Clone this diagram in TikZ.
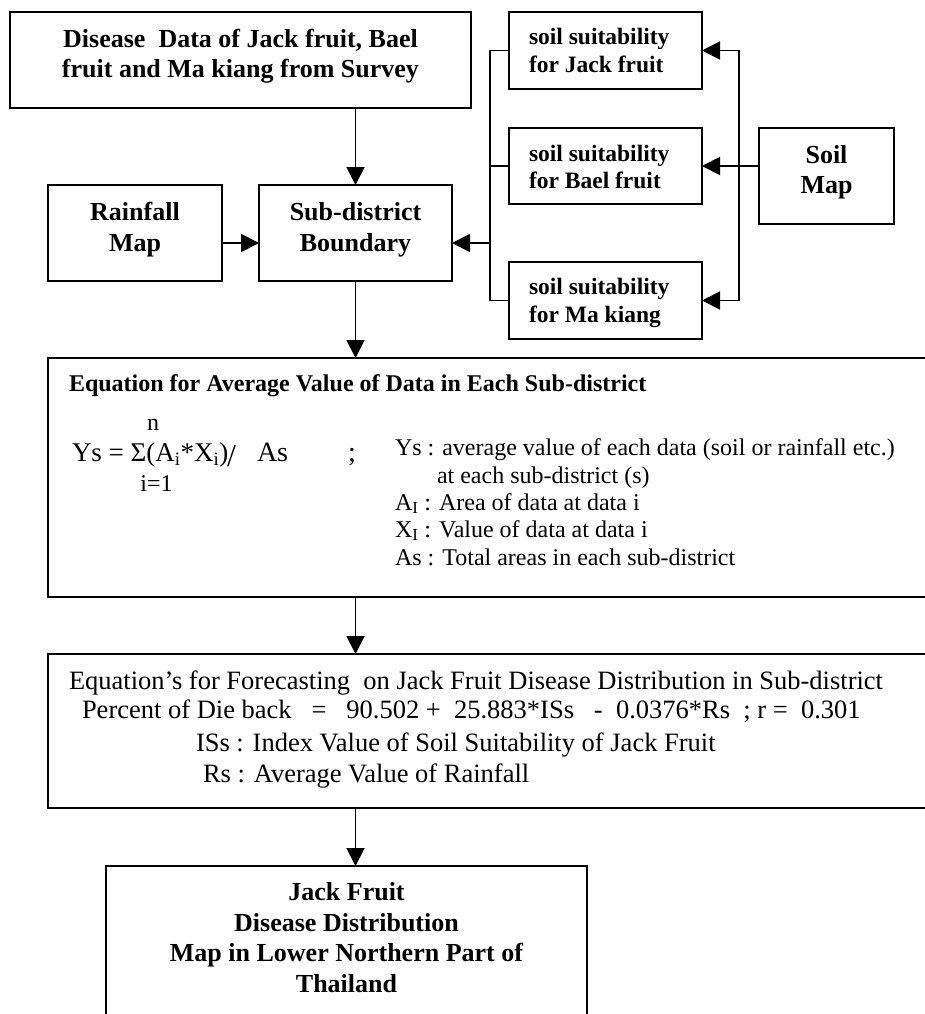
\documentclass[tikz,border=0pt]{standalone}
\usepackage{fontspec}
\setmainfont{Liberation Serif}
\usetikzlibrary{arrows.meta,calc}
\newcommand{\fsz}[2]{\fontsize{#1}{#2}\selectfont}
\begin{document}
\begin{tikzpicture}[x=1pt,y=-1pt,
  box/.style={draw, line width=1.9pt, inner sep=0pt, outer sep=0pt},
  conn/.style={line width=1.9pt},
  arr/.style={conn, -{Triangle[length=18pt,width=18pt]}},
  txt/.style={inner sep=0pt, outer sep=0pt, align=center},
  ltxt/.style={inner sep=0pt, outer sep=0pt, anchor=base west},
  ]
\useasboundingbox (0,0) rectangle (925,1014);
\clip (0,0) rectangle (925,1014);

% boxes
\node[box, minimum width=461, minimum height=96] (topb) at (240.5,60) {};
\node[box, minimum width=174, minimum height=96] (rain) at (135,233) {};
\node[box, minimum width=193, minimum height=96] (sub) at (355.5,233) {};
\node[box, minimum width=193, minimum height=77] (sj) at (605.5,50.5) {};
\node[box, minimum width=193, minimum height=76] (sb) at (605.5,166) {};
\node[box, minimum width=193, minimum height=77] (sm) at (605.5,300.5) {};
\node[box, minimum width=135, minimum height=96] (soil) at (826.5,176) {};
\node[box, minimum width=892, minimum height=239] (eq) at (494,477.5) {};
\node[box, minimum width=892, minimum height=154] (fc) at (494,731) {};
\node[box, minimum width=481, minimum height=164] (fin) at (346.5,948) {};

% box texts
\node[txt, font=\bfseries\fsz{26}{30}] (topt) at (240.5,57) {\strut Disease\ \ Data of Jack fruit, Bael\\\strut fruit and Ma kiang from Survey};
\node[txt, font=\bfseries\fsz{26}{31.5}] (raint) at (135,229.5) {\strut Rainfall\\\strut Map};
\node[txt, font=\bfseries\fsz{26}{31.5}] (subt) at (355.5,229.5) {\strut Sub-district\\\strut Boundary};
\node[txt, align=left, anchor=west, font=\bfseries\fsz{23.5}{27.7}] (sjt) at (529,53.3) {\strut soil suitability\\\strut for Jack fruit};
\node[txt, align=left, anchor=west, font=\bfseries\fsz{23.5}{27.7}] (sbt) at (529,169.5) {\strut soil suitability\\\strut for Bael fruit};
\node[txt, align=left, anchor=west, font=\bfseries\fsz{23.5}{27.7}] (smt) at (529,303) {\strut soil suitability\\\strut for Ma kiang};
\node[txt, font=\bfseries\fsz{26}{30}] (soilt) at (826.5,172.3) {\strut Soil\\\strut Map};
\node[txt, font=\bfseries\fsz{26}{30.5}] (fint) at (346.5,940.4) {\strut Jack Fruit\\\strut Disease Distribution\\\strut Map in Lower Northern Part of\\\strut Thailand};

% equation box content
\node[ltxt, font=\bfseries\fsz{24}{28}] (eqt) at (69,391.7) {Equation for Average Value of Data in Each Sub-district};
\node[ltxt, font=\fsz{27}{32}] (eqa) at (72,461.7) {Ys = Σ(A\textsubscript{i}*X\textsubscript{i})};
\node[ltxt, font=\fsz{32}{36}] (eqs) at (227,466) {/};
\node[ltxt, font=\fsz{28}{32}] (eqas) at (257,461.7) {As};
\node[ltxt, font=\fsz{28}{32}] (eqsc) at (348,461.7) {;};
\node[inner sep=0pt, anchor=base, font=\fsz{24}{28}] (eqn) at (153,430) {n};
\node[inner sep=0pt, anchor=base, font=\fsz{24}{28}] (eqi) at (156.5,491.7) {i=1};
\node[ltxt, font=\fsz{24}{28}] (ex1) at (395,455) {Ys : average value of each data (soil or rainfall etc.)};
\node[ltxt, font=\fsz{24}{28}] (ex2) at (437,483) {at each sub-district (s)};
\node[ltxt, font=\fsz{24}{28}] (ex3) at (395,510) {A\textsubscript{I} : Area of data at data i};
\node[ltxt, font=\fsz{24}{28}] (ex4) at (395,537) {X\textsubscript{I} : Value of data at data i};
\node[ltxt, font=\fsz{24}{28}] (ex5) at (395,565) {As : Total areas in each sub-district};

% forecasting box content
\node[ltxt, font=\fsz{26.5}{30}] (f1) at (69,689.3) {Equation’s for Forecasting\ \ on Jack Fruit Disease Distribution in Sub-district};
\node[ltxt, font=\fsz{26.5}{30}] (f2) at (82,718.3) {Percent of Die back\ \ \ =\ \ \ 90.502 +\ \ 25.883*ISs\ \ \ -\ \ 0.0376*Rs\ \ ; r =\ \ 0.301};
\node[ltxt, font=\fsz{26.5}{30}] (f3) at (196,751.7) {ISs : Index Value of Soil Suitability of Jack Fruit};
\node[ltxt, font=\fsz{26.5}{30}] (f4) at (203,782.7) {Rs : Average Value of Rainfall};

% connectors
\draw[arr] (topb.south -| sub.north) -- (sub.north);
\draw[arr] ([yshift=-10pt]rain.east) -- ([yshift=-10pt]sub.west);
\coordinate (lb) at (490,243);
\draw[conn] (sj.west) -- (sj.west -| lb) -- (sm.west -| lb) -- (sm.west);
\draw[conn] (sb.west) -- (sb.west -| lb);
\draw[arr] (lb) -- (lb -| sub.east);
\coordinate (rb) at (739,166);
\draw[conn] (rb |- sj.east) -- (rb |- sm.east);
\draw[arr] (rb |- sj.east) -- (sj.east);
\draw[arr] (rb |- sm.east) -- (sm.east);
\draw[arr] (soil.west |- rb) -- (sb.east);
\draw[arr] (sub.south) -- (sub.south |- eq.north);
\draw[arr] (eq.south -| sub.south) -- (fc.north -| sub.south);
\draw[arr] (fc.south -| sub.south) -- (fin.north -| sub.south);
\end{tikzpicture}
\end{document}
